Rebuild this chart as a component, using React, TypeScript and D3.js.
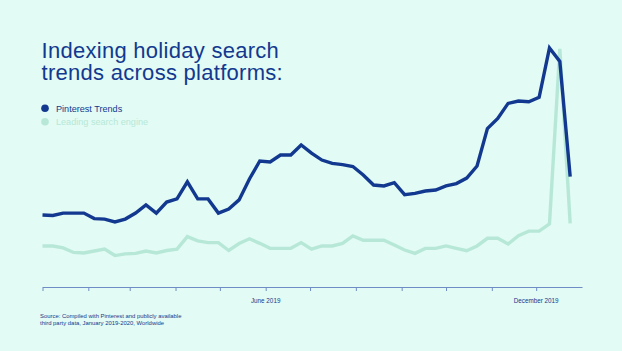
import { useEffect, useRef } from 'react';
import * as d3 from 'd3';

const BG = '#E2FBF4';
const DARK = '#12398F';
const LIGHT = '#B7E8D7';
const AXIS = '#6F8CC6';

// weekly points, first week starts 1 Jan 2019
const weekStart = new Date(2019, 0, 1);
const pinterestTrends = [
  30.0, 29.8, 30.8, 30.8, 30.8, 28.5, 28.3, 27.1, 28.3, 30.8,
  34.2, 30.8, 35.4, 36.7, 43.8, 36.7, 36.7, 30.8, 32.5, 36.3,
  45.0, 52.5, 52.1, 55.0, 55.0, 59.2, 55.8, 52.9, 51.5, 51.0,
  50.2, 46.7, 42.5, 42.1, 43.5, 38.5, 39.0, 40.0, 40.4, 42.1,
  43.1, 45.4, 50.4, 66.0, 70.2, 76.5, 77.5, 77.2, 79.0, 99.6,
  94.0, 46.0,
];
const leadingSearch = [
  17.1, 17.1, 16.3, 14.4, 14.2, 15.0, 15.8, 13.1, 13.8, 14.0,
  15.0, 14.2, 15.2, 15.8, 21.0, 19.2, 18.5, 18.5, 15.2, 18.1,
  20.1, 18.2, 16.1, 16.1, 16.1, 18.5, 15.8, 17.1, 17.1, 18.2,
  21.3, 19.5, 19.5, 19.5, 17.5, 15.4, 14.0, 16.1, 16.1, 17.1,
  16.1, 15.1, 17.1, 20.3, 20.3, 17.9, 21.4, 23.3, 23.3, 26.3,
  99.2, 26.5,
];
const labelledMonths = [
  { date: new Date(2019, 5, 1), label: 'June 2019' },
  { date: new Date(2019, 11, 1), label: 'December 2019' },
];
const titleLines = ['Indexing holiday search', 'trends across platforms:'];
const legendItems = [
  { label: 'Pinterest Trends', color: DARK },
  { label: 'Leading search engine', color: LIGHT },
];
const sourceLines = [
  'Source: Compiled with Pinterest and publicly available',
  'third party data, January 2019-2020, Worldwide',
];

interface Point {
  date: Date;
  value: number;
}

const FONT = "'Liberation Sans', Arial, sans-serif";

export default function App() {
  const svgRef = useRef<SVGSVGElement>(null);
  const width = 622;
  const height = 351;

  useEffect(() => {
    if (!svgRef.current) return;
    const svg = d3.select(svgRef.current);
    svg.selectAll('*').remove();

    svg.append('rect').attr('width', width).attr('height', height).attr('fill', BG);

    const x = d3
      .scaleTime()
      .domain([new Date(2019, 0, 1), new Date(2020, 0, 1)])
      .range([42.5, 582]);
    const y = d3.scaleLinear().domain([0, 100]).range([287, 47]);

    const toPoints = (values: number[]): Point[] =>
      values.map((value, i) => ({ date: d3.timeDay.offset(weekStart, i * 7), value }));

    // title
    svg
      .append('g')
      .selectAll('text')
      .data(titleLines)
      .join('text')
      .attr('x', 41.5)
      .attr('y', (_, i) => 57.5 + i * 22.5)
      .attr('fill', DARK)
      .attr('font-size', 22)
      .attr('letter-spacing', 0.28)
      .attr('font-family', FONT)
      .text((d) => d);

    // legend
    const legend = svg
      .append('g')
      .selectAll('g')
      .data(legendItems)
      .join('g')
      .attr('transform', (_, i) => `translate(45,${108.3 + i * 13.4})`);
    legend.append('circle').attr('r', 3.8).attr('fill', (d) => d.color);
    legend
      .append('text')
      .attr('x', 11)
      .attr('y', 3.3)
      .attr('fill', (d) => d.color)
      .attr('font-size', 9.1)
      .attr('font-family', FONT)
      .text((d) => d.label);

    // axis
    const axis = d3
      .axisBottom(x)
      .tickValues(d3.timeMonth.range(new Date(2019, 0, 1), new Date(2020, 0, 1)))
      .tickSize(4)
      .tickSizeOuter(0)
      .tickFormat(() => '');
    svg
      .append('g')
      .attr('transform', 'translate(0,287)')
      .call(axis)
      .call((g) => {
        g.select('.domain').attr('stroke', AXIS).attr('stroke-width', 1.2);
        g.selectAll('.tick line').attr('stroke', AXIS).attr('stroke-width', 1);
      });

    svg
      .append('g')
      .selectAll('text')
      .data(labelledMonths)
      .join('text')
      .attr('x', (d) => x(d.date))
      .attr('y', 302.5)
      .attr('text-anchor', 'middle')
      .attr('fill', DARK)
      .attr('font-size', 6.3)
      .attr('font-family', FONT)
      .text((d) => d.label);

    const line = d3
      .line<Point>()
      .x((d) => x(d.date))
      .y((d) => y(d.value))
      .curve(d3.curveLinear);

    svg
      .append('path')
      .datum(toPoints(leadingSearch))
      .attr('fill', 'none')
      .attr('stroke', LIGHT)
      .attr('stroke-width', 3.4)
      .attr('stroke-linejoin', 'miter')
      .attr('d', line);

    svg
      .append('path')
      .datum(toPoints(pinterestTrends))
      .attr('fill', 'none')
      .attr('stroke', DARK)
      .attr('stroke-width', 3.4)
      .attr('stroke-linejoin', 'miter')
      .attr('d', line);

    // source
    svg
      .append('g')
      .selectAll('text')
      .data(sourceLines)
      .join('text')
      .attr('x', 40)
      .attr('y', (_, i) => 317.5 + i * 7.4)
      .attr('fill', DARK)
      .attr('font-size', 5.9)
      .attr('font-family', FONT)
      .text((d) => d);
  }, []);

  return (
    <div style={{ position: 'fixed', inset: 0, background: BG }}>
      <svg ref={svgRef} width={width} height={height} style={{ display: 'block' }} />
    </div>
  );
}
